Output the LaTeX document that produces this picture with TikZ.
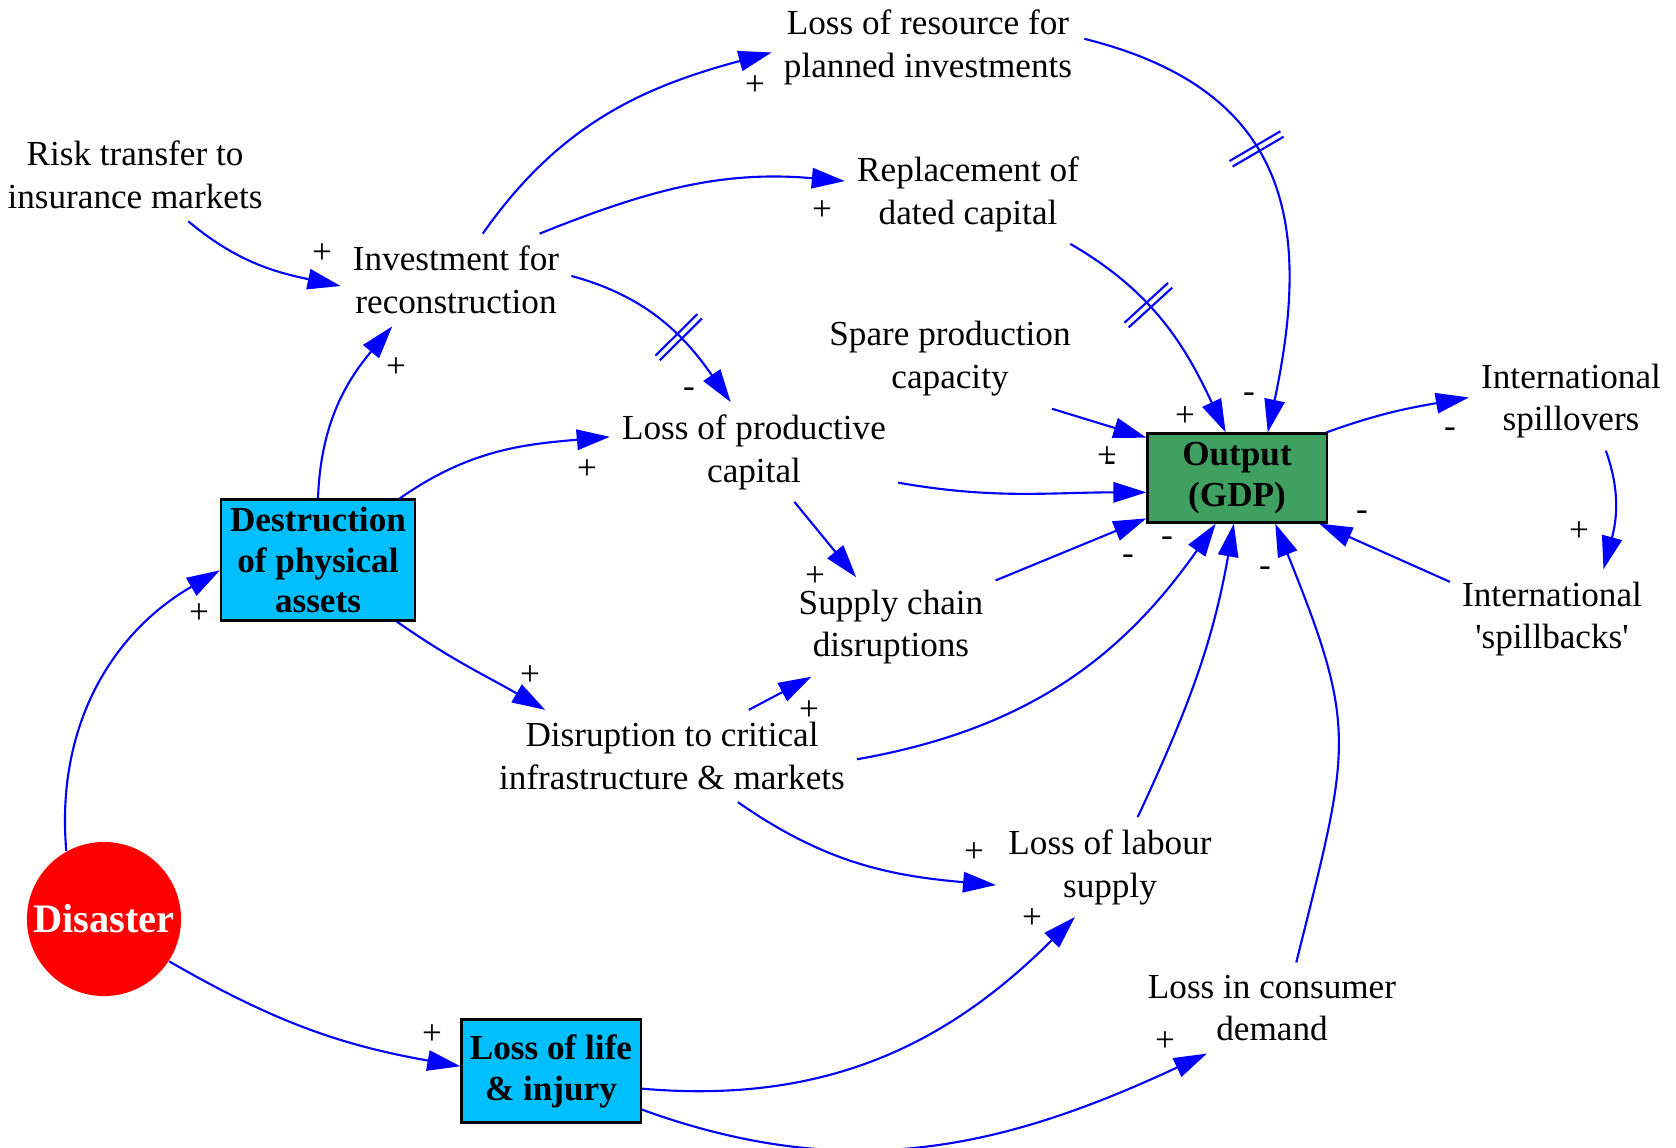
\documentclass[tikz,border=0pt]{standalone}
\usepackage{fontspec}
\setmainfont{Liberation Serif}[Ligatures=TeXOff]
\usepackage{xcolor}
\usetikzlibrary{arrows.meta,decorations.markings}
\definecolor{gdpgreen}{RGB}{64,160,98}
\definecolor{assetblue}{RGB}{0,191,255}

\begin{document}
\begin{tikzpicture}[
  x=0.01cm, y=0.01cm,
  font=\fontsize{10}{12.2}\selectfont,
  txt/.style={align=center, inner sep=3.3pt},
  box/.style={rectangle, draw=black, line width=0.6pt, fill=#1, align=center,
              font=\fontsize{10}{11.6}\selectfont\bfseries, inner sep=2pt},
  sign/.style={inner sep=0pt},
  ar/.style={-{Triangle[length=9.4pt,width=5.8pt]}, line width=0.6pt, blue},
  delay/.style={postaction={decorate}, decoration={markings, mark=at position #1 with
              {\draw[-,blue,line width=0.6pt] (-0.9pt,-8.4pt) -- (-0.9pt,8.4pt) (0.9pt,-8.4pt) -- (0.9pt,8.4pt);}}}]
  \useasboundingbox (0,0) rectangle (1676,1147);
  % factors
  \node[txt] (lossres) at (928,1100) {Loss of resource for\\planned investments};
  \node[txt] (risk) at (135,972) {Risk transfer to\\insurance markets};
  \node[txt] (repl) at (968,953) {Replacement of\\dated capital};
  \node[txt] (inv) at (456,867) {Investment for\\reconstruction};
  \node[txt] (spare) at (950,788) {Spare production\\capacity};
  \node[txt] (lossprod) at (754,695) {Loss of productive\\capital};
  \node[box=gdpgreen, minimum width=1.79cm, minimum height=0.89cm] (gdp) at (1237,669) {Output\\(GDP)};
  \node[txt] (spillo) at (1571,746) {International\\spillovers};
  \node[box=assetblue, minimum width=1.94cm, minimum height=1.21cm] (destr) at (318,587) {Destruction\\of physical\\assets};
  \node[txt] (supply) at (891,520) {Supply chain\\disruptions};
  \node[txt] (spillb) at (1552,528) {International\\'spillbacks'};
  \node[txt] (disrupt) at (672,391) {Disruption to critical\\infrastructure \& markets};
  \node[txt] (labour) at (1110,280) {Loss of labour\\supply};
  \node[circle, fill=red, minimum size=1.54cm, inner sep=0pt, text=white,
        font=\fontsize{11.5}{13}\selectfont\bfseries] (disaster) at (104,228) {Disaster};
  \node[box=assetblue, minimum width=1.79cm, minimum height=1.03cm] (life) at (551,76) {Loss of life\\\& injury};
  \node[txt] (consumer) at (1272,139) {Loss in consumer\\demand};
  % links
  \draw[ar] (inv.60) to[out=55,in=195] (lossres.182);
  \draw[ar] (inv.29) to[out=22,in=175] (repl.174);
  \draw[ar] (risk.-41) to[out=-40,in=168] (inv.183);
  \draw[ar,delay=0.6] (inv.2) to[out=-15,in=125] (lossprod.115);
  \draw[ar] (destr.north) to[out=88,in=230] (inv.216);
  \draw[ar] (destr.37) to[out=35,in=185] (lossprod.174);
  \draw[ar] (destr.-38) to[out=-35,in=150] (disrupt.160);
  \draw[ar] (disaster.119) to[out=95,in=210] (destr.186);
  \draw[ar] (disaster.-33) to[out=-30,in=170] (life.177);
  \draw[ar] (life.-11) to[out=-5,in=225] (labour.235);
  \draw[ar] (life.-23) to[out=-20,in=205] (consumer.215);
  \draw[ar] (disrupt.-35) to[out=-35,in=175] (labour.189);
  \draw[ar] (disrupt.31) -- (supply.212);
  \draw[ar] (lossprod.-51) -- (supply.125);
  \draw[ar] (lossprod.-12) to[out=-10,in=180] (gdp.189);
  \draw[ar] (spare.-26) -- (gdp.156);
  \draw[ar] (supply.24) -- (gdp.204);
  \draw[ar] (disrupt.-1) to[out=10,in=235] (gdp.245);
  \draw[ar] (labour.61) to[out=65,in=260] (gdp.266);
  \draw[ar] (consumer.62) to[out=76,in=292,looseness=1.3] (gdp.310);
  \draw[ar] (spillb.160) -- (gdp.331);
  \draw[ar] (gdp.27) to[out=20,in=190] (spillo.178);
  \draw[ar] (spillo.-55) to[out=-70,in=75] (spillb.44);
  \draw[ar,delay=0.4] (repl.-26) to[out=-30,in=115] (gdp.104);
  \draw[ar,delay=0.42] (lossres.3) to[out=-14,in=78,looseness=1.25] (gdp.56);
  % polarities
  \node[sign] (s1) at (755,1061) {+};
  \node[sign] (s2) at (822,936) {+};
  \node[sign] (s3) at (322,893) {+};
  \node[sign] (s4) at (689,754) {-};
  \node[sign] (s5) at (396,779) {+};
  \node[sign] (s6) at (587,677) {+};
  \node[sign] (s7) at (530,471) {+};
  \node[sign] (s8) at (199,533) {+};
  \node[sign] (s9) at (432,112) {+};
  \node[sign] (s10) at (1032,228) {+};
  \node[sign] (s11) at (1165,105) {+};
  \node[sign] (s12) at (974,294) {+};
  \node[sign] (s13) at (809,436) {+};
  \node[sign] (s14) at (815,570) {+};
  \node[sign] (s15) at (1107,690) {+};
  \node[sign] (s16) at (1110,680) {-};
  \node[sign] (s17) at (1185,730) {+};
  \node[sign] (s18) at (1249,749) {-};
  \node[sign] (s19) at (1128,587) {-};
  \node[sign] (s20) at (1167,605) {-};
  \node[sign] (s21) at (1265,575) {-};
  \node[sign] (s22) at (1362,631) {-};
  \node[sign] (s23) at (1450,714) {-};
  \node[sign] (s24) at (1579,615) {+};
\end{tikzpicture}
\end{document}
